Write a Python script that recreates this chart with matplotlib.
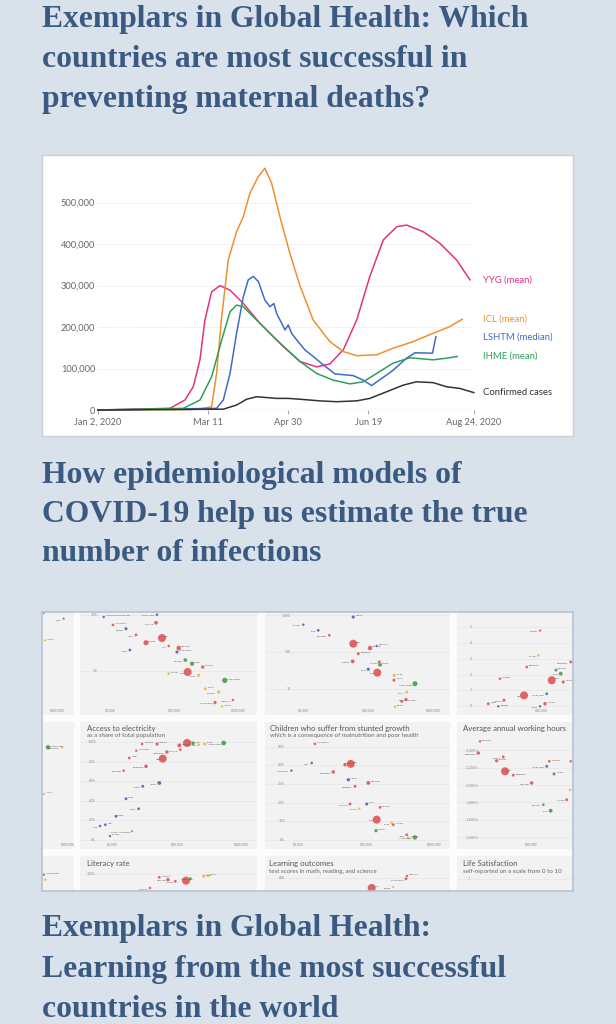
import numpy as np
import matplotlib.pyplot as plt
from matplotlib.transforms import blended_transform_factory

W, H = 616, 1024
BG = "#d9e1ea"
NAVY = "#3a5a82"

# Page headlines
title_top = ["Exemplars in Global Health: Which",
             "countries are most successful in",
             "preventing maternal deaths?"]
title_mid = ["How epidemiological models of",
             "COVID-19 help us estimate the true",
             "number of infections"]
title_bottom = ["Exemplars in Global Health:",
                "Learning from the most successful",
                "countries in the world"]

# COVID-19 chart: days since Jan 2, 2020 and daily new infections
yyg_days = [0, 45, 54.4, 59.6, 63.8, 66.9, 71.1, 76.3, 82.6, 90.9, 101.3, 115.9, 126.3,
            136.8, 145, 153.4, 161.8, 170, 178.4, 186.8, 193, 203.4, 213.8, 224.2, 232.6]
yyg_vals = [0, 4000, 24000, 56000, 121000, 217000, 285000, 300000, 289000, 257000, 209000,
            153000, 117000, 104000, 111000, 145000, 217000, 322000, 410000, 442000, 446000,
            430000, 402000, 362000, 314000]

icl_days = [0, 58, 66, 71.1, 74.2, 77.4, 81.5, 86.7, 90.9, 95, 100.3, 104.4, 108.6, 113.8,
            120, 126.3, 134.6, 145, 153.4, 161.8, 174.2, 184.6, 197.1, 209.6, 220, 227.8]
icl_vals = [0, 1000, 4000, 8000, 88000, 225000, 362000, 430000, 466000, 523000, 563000,
            583000, 547000, 466000, 378000, 300000, 217000, 165000, 141000, 131000, 133000,
            149000, 165000, 185000, 201000, 219000]

lshtm_days = [0, 74.2, 78.4, 82.6, 86.7, 90.9, 94, 97.1, 100.3, 104.4, 107.6, 110, 111.7,
              114.9, 117, 119, 121.1, 124.3, 129.4, 134.6, 140.9, 148.2, 159.6, 165.9,
              171.1, 177.4, 184.6, 193, 198.2, 209.2, 211.3]
lshtm_vals = [0, 4000, 24000, 88000, 185000, 273000, 314000, 322000, 310000, 265000, 249000,
              257000, 233000, 209000, 193000, 205000, 185000, 169000, 145000, 129000, 109000,
              87000, 83000, 72000, 59000, 76000, 96000, 125000, 138000, 137000, 177000]

ihme_days = [0, 53.4, 63.8, 71.1, 77.4, 82.6, 86.7, 90.9, 99.2, 111.7, 126.3, 136.8, 147.1,
             157.6, 165.9, 174.2, 184.6, 195, 209.6, 218, 224.6]
ihme_vals = [0, 4000, 24000, 80000, 169000, 237000, 253000, 249000, 217000, 169000, 117000,
             88000, 72000, 63000, 68000, 88000, 113000, 126000, 121000, 125000, 129000]

cases_days = [0, 78.4, 86.7, 93, 99.2, 111.7, 119, 126.3, 138.8, 149.2, 161.8, 170, 180.5,
              190.9, 199.2, 209.6, 218, 226.3, 235]
cases_vals = [0, 2000, 12000, 26000, 32000, 28000, 28000, 26000, 22000, 20000, 22000, 28000,
              44000, 60000, 68000, 66000, 56000, 52000, 42000]

series_names = ["YYG (mean)", "ICL (mean)", "LSHTM (median)", "IHME (mean)", "Confirmed cases"]
series_colors = ["#e2337f", "#f0902c", "#3f6cc8", "#2f9f5a", "#333333"]
x_tick_days = [0, 69, 119, 169, 235]
x_tick_labels = ["Jan 2, 2020", "Mar 11", "Apr 30", "Jun 19", "Aug 24, 2020"]
y_ticks = [0, 100000, 200000, 300000, 400000, 500000]

# Thumbnail grid: (country, GDP per capita, value, population in millions, region)
tile_a = [("United States", 62000, 10.8, 5, "americas"), ("Qatar", 127000, 8.5, 5, "asia"),
          ("Norway", 65000, 3.5, 3, "europe")]
tile_b = [("India", 6425, 3.87, 1380, "asia"), ("China", 16190, 0.97, 1400, "asia"),
          ("Pakistan", 3614, 3.2, 220, "asia"), ("Myanmar", 5176, 7.2, 54, "asia"),
          ("Indonesia", 11720, 2.58, 120, "asia"), ("South Korea", 43270, 0.28, 30, "asia"),
          ("Malaysia", 27800, 1.19, 32, "asia"), ("Laos", 8175, 2.8, 7, "asia"),
          ("United States", 61400, 0.69, 250, "americas"), ("Colombia", 14860, 1.58, 50, "americas"),
          ("Mexico", 18920, 1.36, 90, "americas"), ("Sierra Leone", 5370, 10, 8, "africa"),
          ("Central African Republic", 789, 9.1, 5, "africa"), ("Ethiopia", 1757, 5.66, 20, "africa"),
          ("South Africa", 11020, 2.19, 25, "africa"), ("Russia", 24040, 0.85, 30, "europe"),
          ("Poland", 30500, 0.49, 20, "europe"), ("Germany", 49400, 0.43, 30, "europe"),
          ("Ukraine", 8175, 0.91, 10, "europe"), ("Nepal", 2520, 4.4, 10, "asia"),
          ("Afghanistan", 1100, 6.6, 8, "asia"), ("Kenya", 2020, 2.38, 10, "africa"),
          ("Norway", 55600, 0.24, 5, "europe"), ("Singapore", 82200, 0.31, 6, "asia")]
tile_c = [("India", 5875, 168, 1380, "asia"), ("China", 13740, 27.3, 1400, "asia"),
          ("Indonesia", 10620, 128, 120, "asia"), ("Pakistan", 5750, 55.8, 60, "asia"),
          ("Mexico", 15140, 45, 60, "americas"), ("United States", 52200, 13.7, 200, "americas"),
          ("Nigeria", 5875, 899, 25, "africa"), ("Chad", 1700, 390, 10, "africa"),
          ("Botswana", 13450, 146, 4, "africa"), ("Egypt", 10000, 33.8, 25, "africa"),
          ("Russia", 25100, 23.2, 30, "europe"), ("France", 39000, 8.1, 20, "europe"),
          ("Greece", 25800, 3.2, 8, "europe"), ("Japan", 38000, 5.1, 30, "asia"),
          ("South Korea", 32700, 4.5, 15, "asia"), ("Cambodia", 2510, 285, 10, "asia"),
          ("Philippines", 7020, 90, 20, "asia"), ("Thailand", 14760, 53, 20, "asia"),
          ("Turkey", 24830, 17, 20, "asia"), ("Burundi", 1000, 555, 6, "africa")]
tile_d = [("China", 14260, 1.64, 1400, "asia"), ("India", 5350, 0.69, 1380, "asia"),
          ("Thailand", 11250, 0.16, 40, "asia"), ("Vietnam", 2630, 0.38, 20, "asia"),
          ("Nepal", 1510, 0.16, 15, "asia"), ("Brazil", 19600, 2.05, 60, "americas"),
          ("Ethiopia", 2150, 0.0, 5, "africa"), ("South Africa", 11940, 0.79, 10, "africa"),
          ("Malaysia", 21500, 1.53, 20, "asia"), ("Ukraine", 8870, 3.2, 8, "europe"),
          ("Mongolia", 2280, 1.74, 8, "asia"), ("Kazakhstan", 27900, 2.79, 15, "asia"),
          ("Philippines", 5880, 2.47, 10, "asia"), ("Kenya", 9420, 0.0, 5, "africa"),
          ("Colombia", 16600, 2.28, 20, "americas"), ("Georgia", 9420, 4.76, 4, "asia")]
tile_e = [("United States", 48700, 94.6, 120, "americas"), ("Switzerland", 80600, 94.6, 4, "europe"),
          ("Ireland", 42000, 47, 3, "europe")]
tile_f = [("China", 14320, 99, 1400, "asia"), ("India", 6000, 83, 1380, "asia"),
          ("Indonesia", 10870, 96.6, 60, "asia"), ("Philippines", 6980, 89.8, 40, "asia"),
          ("Vietnam", 4890, 98, 30, "asia"), ("Bangladesh", 3300, 75.2, 50, "asia"),
          ("Nepal", 1810, 83.7, 10, "asia"), ("Cambodia", 1480, 70.7, 8, "asia"),
          ("Kyrgyzstan", 2330, 91.1, 6, "asia"), ("United States", 53200, 99, 150, "americas"),
          ("Brazil", 17750, 98.5, 40, "americas"), ("Nigeria", 5310, 58.2, 60, "africa"),
          ("Sudan", 1610, 42.1, 15, "africa"), ("Ghana", 2930, 54.8, 15, "africa"),
          ("Niger", 768, 15.6, 10, "africa"), ("Kenya", 2530, 31.9, 12, "africa"),
          ("Russia", 27000, 98, 30, "europe"), ("Ukraine", 21700, 97.2, 10, "europe"),
          ("Tajikistan", 2860, 98, 8, "asia"), ("Papua New Guinea", 1990, 8.9, 3, "oceania"),
          ("Congo", 1125, 24.2, 15, "africa"), ("Myanmar", 11250, 92.1, 10, "asia"),
          ("Burundi", 908, 4, 4, "africa"), ("Chad", 635, 14.3, 5, "africa")]
tile_g = [("India", 5960, 40.8, 1380, "asia"), ("China", 14360, 10.9, 1400, "asia"),
          ("Indonesia", 10810, 30.6, 60, "asia"), ("Bangladesh", 3300, 36.5, 40, "asia"),
          ("Pakistan", 4910, 40.4, 40, "asia"), ("Myanmar", 5820, 19.3, 15, "asia"),
          ("Malaysia", 16070, 17.5, 12, "asia"), ("Japan", 39700, 2.8, 12, "asia"),
          ("Nigeria", 5500, 32.3, 30, "africa"), ("Niger", 1590, 41.3, 8, "africa"),
          ("Egypt", 10240, 19.3, 20, "africa"), ("United States", 52500, 1.4, 120, "americas"),
          ("Mexico", 14020, 5, 30, "americas"), ("Russia", 23900, 9.1, 20, "europe"),
          ("Germany", 41900, 1.1, 15, "europe"), ("Ukraine", 7960, 16.8, 6, "europe"),
          ("Afghanistan", 1770, 51.5, 8, "asia"), ("Madagascar", 800, 37.2, 6, "africa"),
          ("Thailand", 25200, 8.2, 10, "asia"), ("Philippines", 6890, 28.8, 15, "asia")]
tile_h = [("India", 4050, 2158, 1380, "asia"), ("Bangladesh", 1640, 2369, 40, "asia"),
          ("Pakistan", 3050, 2280, 30, "asia"), ("Myanmar", 3820, 2323, 15, "asia"),
          ("Philippines", 5360, 2112, 15, "asia"), ("Indonesia", 10000, 2023, 40, "asia"),
          ("Malaysia", 18150, 2273, 10, "asia"), ("Thailand", 32700, 1830, 15, "asia"),
          ("Singapore", 37500, 2273, 6, "asia"), ("Brazil", 19000, 1703, 60, "americas"),
          ("Mexico", 21300, 2127, 20, "americas"), ("South Africa", 16630, 2215, 15, "africa"),
          ("Poland", 36600, 1942, 8, "europe"), ("Colombia", 14830, 1773, 8, "americas"),
          ("Cambodia", 1740, 2504, 5, "asia")]
tile_i = [("United States", 41700, 99.3, 6, "americas"), ("Norway", 44200, 94.2, 5, "europe")]
tile_j = [("China", 13800, 93.2, 1400, "asia"), ("Indonesia", 7240, 94.2, 40, "asia"),
          ("Russia", 26000, 97.7, 25, "europe"), ("Mexico", 16100, 95.2, 20, "americas"),
          ("Vietnam", 5310, 96.6, 12, "asia"), ("Thailand", 9420, 92.6, 12, "asia"),
          ("Poland", 30300, 98.3, 8, "europe"), ("Myanmar", 3800, 85.7, 6, "asia")]
tile_k = [("China", 12130, 559, 1400, "asia"), ("South Korea", 38700, 596, 15, "asia"),
          ("Singapore", 40100, 607, 5, "asia"), ("Estonia", 24900, 563, 3, "europe")]
tile_l = []

gdp_ticks = [1000, 10000, 100000]
gdp_labels = ["$1,000", "$10,000", "$100,000"]
pct_ticks = [0, 20, 40, 60, 80, 100]
stunt_ticks = [0, 10, 20, 30, 40, 50]
hours_ticks = [1400, 1600, 1800, 2000, 2200, 2400]

REGION_COLORS = {"asia": "#dc4b4b", "africa": "#3d5cb4", "europe": "#e9b52c",
                 "americas": "#3c993c", "oceania": "#8e7cc3"}

fig = plt.figure(figsize=(W / 100, H / 100), dpi=100, facecolor=BG)


def fx(x):
    return x / W


def fy(y):
    return 1 - y / H


def add_px_axes(x0, y0, x1, y1, **kw):
    return fig.add_axes([fx(x0), fy(y1), (x1 - x0) / W, (y1 - y0) / H], **kw)


def headline(lines, baselines):
    for text, y in zip(lines, baselines):
        fig.text(fx(42), fy(y), text, fontsize=22.8, fontweight="bold",
                 family="Liberation Serif", color=NAVY, va="baseline")


headline(title_top, [27, 67, 107])
headline(title_mid, [483, 522, 561])
headline(title_bottom, [936, 977, 1017])

# --- COVID-19 chart ---
frame = add_px_axes(42, 155, 573, 436)
frame.set_facecolor("white")
frame.set_xticks([])
frame.set_yticks([])
for s in frame.spines.values():
    s.set_color("#c7d0da")
    s.set_linewidth(1)

ax = add_px_axes(97.9, 161.2, 473.8, 410)
ax.patch.set_alpha(0)
ax.set_xlim(0, 235)
ax.set_ylim(0, 600000)
for s in ax.spines.values():
    s.set_visible(False)
for v in y_ticks[1:]:
    ax.axhline(v, color="#d9d9d9", lw=0.6, ls=(0, (1, 1.5)), zorder=0)
ax.axhline(0, color="#9a9a9a", lw=0.8, zorder=1)

all_days = [yyg_days, icl_days, lshtm_days, ihme_days, cases_days]
all_vals = [yyg_vals, icl_vals, lshtm_vals, ihme_vals, cases_vals]
for d, v, name, col in zip(all_days, all_vals, series_names, series_colors):
    ax.plot(d, v, color=col, lw=1.1, clip_on=False, zorder=3, solid_joinstyle="round")
    ax.text(240.5, v[-1], name, color=col, fontsize=6.8, family="Lato",
            va="center", ha="left", clip_on=False)

ax.set_yticks(y_ticks)
ax.set_yticklabels([f"{v:,}" for v in y_ticks])
ax.set_xticks(x_tick_days)
ax.set_xticklabels(x_tick_labels)
ax.tick_params(axis="y", length=0, pad=2, labelsize=6.7, labelcolor="#666")
ax.tick_params(axis="x", length=3, width=0.6, color="#999", pad=2.5,
               labelsize=6.7, labelcolor="#666")
for lab in ax.get_xticklabels() + ax.get_yticklabels():
    lab.set_family("Lato")

# --- thumbnail grid ---
panel = add_px_axes(42, 612, 573, 891)
panel.set_facecolor("#fcfcfc")
panel.set_xticks([])
panel.set_yticks([])
for s in panel.spines.values():
    s.set_visible(False)

tile_specs = [
    dict(pts=tile_a, rect=(42, 612, 73.5, 715.3), xmap=(-71, 64), ymap=("log", 614.7, 10, 56.6),
         xt=[100000], xtl=["$100,000"], xty=711, yt=[], ytl=[], ylx=0),
    dict(pts=tile_b, rect=(80.3, 612, 257, 715.3), xmap=(110.3, 64), ymap=("log", 614.7, 10, 56.6),
         xt=gdp_ticks, xtl=gdp_labels, xty=711, yt=[10, 1], ytl=["10%", "1%"], ylx=97.5),
    dict(pts=tile_c, rect=(264.7, 612, 450.5, 715.3), xmap=(303.3, 65), ymap=("log", 615.3, 1000, 36.7),
         xt=gdp_ticks, xtl=gdp_labels, xty=711, yt=[1000, 100, 10], ytl=["1,000", "100", "10"], ylx=290.5),
    dict(pts=tile_d, rect=(457.3, 612, 573, 715.3), xmap=(476.7, 65), ymap=("lin", 706.3, 0, 15.9),
         xt=[10000], xtl=["$10,000"], xty=711, yt=[0, 1, 2, 3, 4, 5], ytl=["0", "1", "2", "3", "4", "5"],
         ylx=471.5),
    dict(pts=tile_e, rect=(42, 722, 73.5, 848.5), xmap=(-60, 64), ymap=("lin", 840, 0, 0.98),
         xt=[100000], xtl=["$100,000"], xty=845, yt=[], ytl=[], ylx=0),
    dict(pts=tile_f, rect=(80.3, 722, 257, 848.5), xmap=(112.7, 64.3), ymap=("lin", 840, 0, 0.98),
         xt=gdp_ticks, xtl=gdp_labels, xty=845, yt=pct_ticks, ytl=[f"{t}%" for t in pct_ticks],
         ylx=96, title="Access to electricity", sub="as a share of total population", tx=87,
         tby=731, sby=737.5),
    dict(pts=tile_g, rect=(264.7, 722, 450.5, 848.5), xmap=(298, 68), ymap=("lin", 840, 0, 1.865),
         xt=gdp_ticks, xtl=gdp_labels, xty=845, yt=stunt_ticks, ytl=[f"{t}%" for t in stunt_ticks],
         ylx=285, title="Children who suffer from stunted growth",
         sub="which is a consequence of malnutrition and poor health", tx=270.5, tby=731, sby=737.5),
    dict(pts=tile_h, rect=(457.3, 722, 573, 848.5), xmap=(463.7, 68), ymap=("lin", 837, 1400, 0.0867),
         xt=[10000], xtl=["$10,000"], xty=845, yt=hours_ticks, ytl=[f"{t:,} h" for t in hours_ticks],
         ylx=477.5, title="Average annual working hours", sub=None, tx=462.7, tby=731, sby=737.5),
    dict(pts=tile_i, rect=(42, 856.3, 73.5, 891), xmap=(-60, 64), ymap=("lin", 874, 100, 0.98),
         xt=[], xtl=[], xty=0, yt=[], ytl=[], ylx=0),
    dict(pts=tile_j, rect=(80.3, 856.3, 257, 891), xmap=(112.7, 64.3), ymap=("lin", 874, 100, 0.98),
         xt=[], xtl=[], xty=0, yt=[100], ytl=["100%"], ylx=95.5, title="Literacy rate", sub=None,
         tx=87, tby=866, sby=872.5),
    dict(pts=tile_k, rect=(264.7, 856.3, 450.5, 891), xmap=(298, 68), ymap=("lin", 877.7, 600, 0.25),
         xt=[], xtl=[], xty=0, yt=[600], ytl=["600"], ylx=284.5, title="Learning outcomes",
         sub="test scores in math, reading, and science", tx=269, tby=866, sby=872.5),
    dict(pts=tile_l, rect=(457.3, 856.3, 573, 891), xmap=(463.7, 68), ymap=("lin", 878.7, 7, 30),
         xt=[], xtl=[], xty=0, yt=[7], ytl=["7"], ylx=470, title="Life Satisfaction",
         sub="self-reported on a scale from 0 to 10", tx=462.7, tby=866, sby=872.5),
]


def y_value(ymap, py):
    kind, pref, vref, per = ymap
    if kind == "log":
        return 10 ** (np.log10(vref) + (pref - py) / per)
    return vref + (pref - py) / per


for spec in tile_specs:
    x0, y0, x1, y1 = spec["rect"]
    tax = add_px_axes(x0, y0, x1, y1)
    tax.set_facecolor("#f2f2f2")
    for s in tax.spines.values():
        s.set_visible(False)
    xa, xd = spec["xmap"]
    tax.set_xscale("log")
    tax.set_xlim(10 ** (3 + (x0 - xa) / xd), 10 ** (3 + (x1 - xa) / xd))
    if spec["ymap"][0] == "log":
        tax.set_yscale("log")
    tax.set_ylim(y_value(spec["ymap"], y1), y_value(spec["ymap"], y0))
    tax.set_xticks([])
    tax.set_yticks([])
    tax.minorticks_off()

    ytrans = blended_transform_factory(fig.transFigure, tax.transData)
    for t, lab in zip(spec["yt"], spec["ytl"]):
        tax.axhline(t, color="#e2e2e2", lw=0.4, zorder=0)
        tax.text(fx(spec["ylx"]), t, lab, transform=ytrans, fontsize=2.4, color="#888",
                 ha="right", va="center", family="Lato", clip_on=True)
    xtrans = blended_transform_factory(tax.transData, fig.transFigure)
    for t, lab in zip(spec["xt"], spec["xtl"]):
        tax.text(t, fy(spec["xty"]), lab, transform=xtrans, fontsize=2.4, color="#888",
                 ha="center", va="baseline", family="Lato", clip_on=True)

    if spec.get("title"):
        tax.text(fx(spec["tx"]), fy(spec["tby"]), spec["title"], transform=fig.transFigure,
                 fontsize=5.6, color="#555", family="Lato", va="baseline", clip_on=True)
        if spec["sub"]:
            tax.text(fx(spec["tx"]), fy(spec["sby"]), spec["sub"], transform=fig.transFigure,
                     fontsize=4.4, color="#666", family="Lato", va="baseline", clip_on=True)

    pts = spec["pts"]
    if pts:
        names = [p[0] for p in pts]
        gdp = [p[1] for p in pts]
        val = [p[2] for p in pts]
        pop = np.array([p[3] for p in pts], dtype=float)
        cols = [REGION_COLORS[p[4]] for p in pts]
        order = np.argsort(-pop)
        tax.scatter(np.array(gdp)[order], np.array(val)[order], s=(1.5 + 0.9 * np.sqrt(pop))[order],
                    c=np.array(cols)[order], alpha=0.85, edgecolors="#ffffff", linewidths=0.15,
                    zorder=3)
        for i, (n, g, v) in enumerate(zip(names, gdp, val)):
            # alternate label sides to keep the tiny names apart
            side = 1 if i % 2 == 0 else -1
            tax.annotate(n, (g, v), xytext=(1.6 * side, 0.9 * side), textcoords="offset points",
                         fontsize=1.6, color="#555", va="center",
                         ha="left" if side > 0 else "right", family="Lato", clip_on=True)

border = add_px_axes(42, 612, 573, 891)
border.patch.set_alpha(0)
border.set_xticks([])
border.set_yticks([])
for s in border.spines.values():
    s.set_color("#b6c3d1")
    s.set_linewidth(1.2)

fig.savefig("out.png", dpi=100, facecolor=BG)
